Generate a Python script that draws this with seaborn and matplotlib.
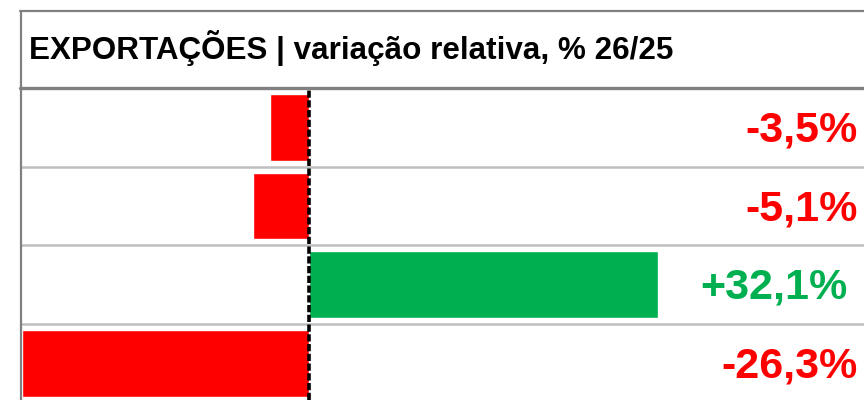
import matplotlib
matplotlib.use("Agg")
import matplotlib.pyplot as plt
import matplotlib.transforms as mtransforms
from matplotlib.lines import Line2D
import seaborn as sns
import pandas as pd

title = "EXPORTAÇÕES | variação relativa, % 26/25"
categories = ["1", "2", "3", "4"]
values = [-3.5, -5.1, 32.1, -26.3]

RED = "#FF0000"
GREEN = "#00B050"

def fmt(v):
    s = f"{v:+.1f}".replace(".", ",")
    return s + "%"

df = pd.DataFrame({"cat": categories, "val": values})
colors = {c: (GREEN if v > 0 else RED) for c, v in zip(categories, values)}

sns.set_theme(style="white")
plt.rcParams["font.family"] = ["Liberation Sans", "DejaVu Sans"]

W, H = 864, 400
fig = plt.figure(figsize=(W / 100, H / 100), dpi=100)
fig.patch.set_facecolor("white")

ax_left, ax_top = 22, 88
ax = fig.add_axes([ax_left / W, 0, (W - ax_left) / W, (H - ax_top) / H])
sns.barplot(data=df, x="val", y="cat", hue="cat", palette=colors, orient="h",
            width=0.85, legend=False, ax=ax, saturation=1)

zero_px, scale = 308.5, 10.9
ax.set_xlim(-(zero_px - ax_left) / scale, (W - zero_px) / scale)
row_h = 78.7
ax.set_ylim(-0.5 + (H - ax_top) / row_h, -0.5)

for s in ax.spines.values():
    s.set_visible(False)
ax.set_xticks([])
ax.set_yticks([])
ax.set_xlabel("")
ax.set_ylabel("")

for yy in [0.5, 1.5, 2.5]:
    ax.axhline(yy, color="#bfbfbf", lw=1.8, zorder=1)
ax.axvline(0, color="black", lw=2.6, ls=(0, (2.0, 0.7)), zorder=5)

trans = mtransforms.blended_transform_factory(ax.transAxes, ax.transData)
for i, v in enumerate(values):
    xr = (858 - ax_left) / (W - ax_left) if v < 0 else (848 - ax_left) / (W - ax_left)
    ax.text(xr, i + 0.04, fmt(v), transform=trans, ha="right", va="center",
            color=GREEN if v > 0 else RED, fontsize=31, fontweight="bold",
            family=["Liberation Sans", "DejaVu Sans"], zorder=6)

fig.text(29 / W, 1 - 48 / H, title, ha="left", va="center", fontsize=22.6,
         fontweight="bold", family=["Liberation Sans", "DejaVu Sans"], color="black")

# frame lines
fig.add_artist(Line2D([21 / W, 21 / W], [0, 1 - 11 / H], color="#808080", lw=1.6,
                      transform=fig.transFigure))
fig.add_artist(Line2D([20 / W, 1], [1 - 11 / H, 1 - 11 / H], color="#808080", lw=1.6,
                      transform=fig.transFigure))
fig.add_artist(Line2D([20 / W, 1], [1 - 87.5 / H, 1 - 87.5 / H], color="#808080", lw=2.4,
                      transform=fig.transFigure))

fig.savefig("out.png", dpi=100, facecolor="white")
